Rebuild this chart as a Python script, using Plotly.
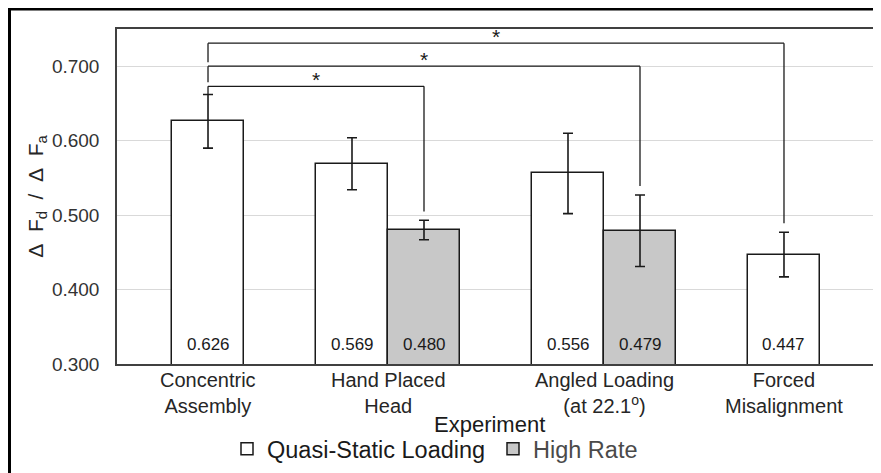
import plotly.graph_objects as go

# ---------------- data ----------------
categories = ["Concentric Assembly", "Hand Placed Head", "Angled Loading (at 22.1o)", "Forced Misalignment"]
category_labels = ["Concentric<br>Assembly", "Hand Placed<br>Head",
                   "Angled Loading<br>(at 22.1<sup>o</sup>)", "Forced<br>Misalignment"]
quasi_values = [0.626, 0.569, 0.556, 0.447]
quasi_errors = [0.036, 0.035, 0.054, 0.030]
high_categories = ["Hand Placed Head", "Angled Loading (at 22.1o)"]
high_values = [0.480, 0.479]
high_errors = [0.013, 0.048]
y_ticks = [0.3, 0.4, 0.5, 0.6, 0.7]
x_title = "Experiment"
# significance: (reference category, compared category, compared series, bracket level)
sig_pairs = [
    ("Concentric Assembly", "Hand Placed Head", "high", 0.673),
    ("Concentric Assembly", "Angled Loading (at 22.1o)", "high", 0.700),
    ("Concentric Assembly", "Forced Misalignment", "quasi", 0.731),
]

# ---------------- style ----------------
FONT = "Liberation Sans, Arial, sans-serif"
BAR_W = 0.375
group_shift = {"Hand Placed Head": -0.0625, "Angled Loading (at 22.1o)": 0.0625}
GRAY = "#c8c8c8"
LINE = "#1a1a1a"
W, H = 873, 465
ML, MR, MT, MB = 109, 6, 21, 109
PW, PH = W - ML - MR, H - MT - MB
NB = "\u00a0"


def has_high(cat):
    return cat in high_categories


def quasi_offset(cat):
    s = group_shift.get(cat, 0.0)
    return s - BAR_W if has_high(cat) else s - BAR_W / 2


def high_offset(cat):
    return group_shift.get(cat, 0.0)


def center(cat, series):
    i = categories.index(cat)
    off = quasi_offset(cat) if series == "quasi" else high_offset(cat)
    return i + off + BAR_W / 2


def err_top(cat, series):
    if series == "quasi":
        j = categories.index(cat)
        return quasi_values[j] + quasi_errors[j]
    j = high_categories.index(cat)
    return high_values[j] + high_errors[j]


fig = go.Figure()
fig.add_trace(go.Bar(
    name="Quasi-Static Loading", x=categories, y=quasi_values,
    width=BAR_W, offset=[quasi_offset(c) for c in categories],
    marker=dict(color="white", line=dict(color=LINE, width=1.5)),
    error_y=dict(type="data", array=quasi_errors, color=LINE, thickness=1.6, width=5),
))
fig.add_trace(go.Bar(
    name="<span style='color:#4a4a4a'>High Rate</span>", x=high_categories, y=high_values,
    width=BAR_W, offset=[high_offset(c) for c in high_categories],
    marker=dict(color=GRAY, line=dict(color=LINE, width=1.5)),
    error_y=dict(type="data", array=high_errors, color=LINE, thickness=1.6, width=5),
))

annotations = []
# value labels at bar bottoms
for c, v in zip(categories, quasi_values):
    annotations.append(dict(x=center(c, "quasi"), y=y_ticks[0], xref="x", yref="y",
                            text=f"{v:.3f}", showarrow=False, yanchor="middle", yshift=20,
                            font=dict(family=FONT, size=17, color="#1a1a1a")))
for c, v in zip(high_categories, high_values):
    annotations.append(dict(x=center(c, "high"), y=y_ticks[0], xref="x", yref="y",
                            text=f"{v:.3f}", showarrow=False, yanchor="middle", yshift=20,
                            font=dict(family=FONT, size=17, color="#1a1a1a")))
# category labels
for i, (c, lab) in enumerate(zip(categories, category_labels)):
    annotations.append(dict(x=i + group_shift.get(c, 0.0), y=-0.087, xref="x", yref="paper",
                            text=lab, showarrow=False, yanchor="middle",
                            font=dict(family=FONT, size=20, color="#262626")))
# x axis title
annotations.append(dict(x=0.492, y=-0.182, xref="paper", yref="paper", text=x_title,
                        showarrow=False, yanchor="middle",
                        font=dict(family=FONT, size=22, color="#1a1a1a")))

shapes = []
levels_sorted = sorted(p[3] for p in sig_pairs)
for k, (ref, cmp_cat, cmp_series, lvl) in enumerate(sorted(sig_pairs, key=lambda p: p[3])):
    xl = center(ref, "quasi")
    xr = center(cmp_cat, cmp_series)
    left_bottom = err_top(ref, "quasi") if k == 0 else levels_sorted[k - 1] + 0.0054
    right_bottom = err_top(cmp_cat, cmp_series) + 0.012
    ln = dict(color=LINE, width=1.3)
    shapes.append(dict(type="line", xref="x", yref="y", x0=xl, x1=xl, y0=left_bottom, y1=lvl, line=ln))
    shapes.append(dict(type="line", xref="x", yref="y", x0=xl, x1=xr, y0=lvl, y1=lvl, line=ln))
    shapes.append(dict(type="line", xref="x", yref="y", x0=xr, x1=xr, y0=lvl, y1=right_bottom, line=ln))
    annotations.append(dict(x=(xl + xr) / 2, y=lvl, xref="x", yref="y", text="*", showarrow=False,
                            yanchor="middle", yshift=7, font=dict(family=FONT, size=21, color=LINE)))

# outer frame around the whole picture (runs off the right and bottom edges)
shapes.append(dict(type="rect", xref="paper", yref="paper",
                   x0=(1.5 - ML) / PW, x1=(W + 20 - ML) / PW,
                   y0=-(H + 20 - MT - PH) / PH, y1=(MT + PH - 1) / PH,
                   line=dict(color="black", width=3), fillcolor="rgba(0,0,0,0)", layer="above"))

fig.update_layout(
    width=W, height=H,
    margin=dict(l=ML, r=MR, t=MT, b=MB, autoexpand=False),
    paper_bgcolor="white", plot_bgcolor="white",
    barmode="overlay", bargap=0,
    font=dict(family=FONT, color="#262626"),
    showlegend=True,
    legend=dict(orientation="h", x=219 / W, xanchor="left", xref="container",
                y=1 - 441 / H, yanchor="middle", yref="container",
                font=dict(family=FONT, size=23.5, color="#1a1a1a"), traceorder="normal",
                entrywidth=221, entrywidthmode="pixels",
                bgcolor="rgba(0,0,0,0)"),
    annotations=annotations,
    shapes=shapes,
)
fig.update_xaxes(type="category", categoryorder="array", categoryarray=categories,
                 range=[-0.474, 3.474], showticklabels=False, ticks="",
                 showline=True, mirror=True, linecolor="#404040", linewidth=1.5,
                 showgrid=False, zeroline=False)
fig.update_yaxes(range=[0.3, 0.75], tickvals=y_ticks, tickformat=".3f",
                 showline=True, mirror=True, linecolor="#404040", linewidth=1.5,
                 showgrid=True, gridcolor="#d9d9d9", gridwidth=1.3, zeroline=False,
                 tickfont=dict(family=FONT, size=19, color="#333333"), ticklabelstandoff=12,
                 title=dict(text=f"Δ{NB}{NB}F<sub>d</sub>{NB}{NB}/{NB}{NB}Δ{NB}{NB}F<sub>a</sub>", standoff=3,
                            font=dict(family=FONT, size=21, color="#262626")))

fig.write_html("out.html")
